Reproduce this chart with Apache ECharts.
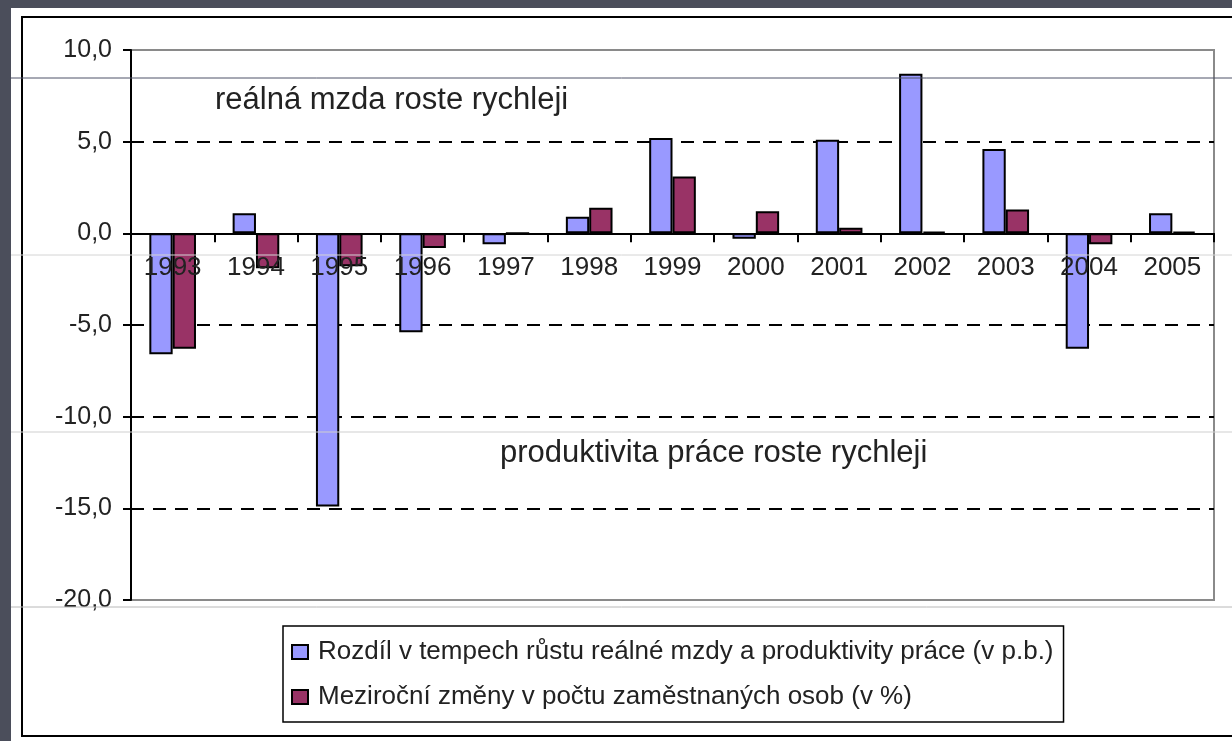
<!DOCTYPE html>
<html>
<head>
<meta charset="utf-8">
<title>Reálná mzda vs. produktivita</title>
<script src="https://cdn.jsdelivr.net/npm/echarts@6/dist/echarts.min.js"></script>
<style>
    html, body { margin: 0; padding: 0; background: #4b4e5b; }
    #chart { width: 1232px; height: 741px; }
</style>
</head>
<body>
<div id="chart"></div>
<script>
// data
const years = ['1993', '1994', '1995', '1996', '1997', '1998', '1999', '2000', '2001', '2002', '2003', '2004', '2005'];
const wageGap = [-6.6, 1.1, -14.9, -5.4, -0.6, 0.9, 5.2, -0.3, 5.1, 8.7, 4.6, -6.3, 1.1];
const employment = [-6.3, -1.9, -1.8, -0.8, 0.0, 1.4, 3.1, 1.2, 0.3, 0.1, 1.3, -0.6, 0.1];
const seriesNames = [
    'Rozdíl v tempech růstu reálné mzdy a produktivity práce (v p.b.)',
    'Meziroční změny v počtu zaměstnaných osob (v %)'
];
const notes = ['reálná mzda roste rychleji', 'produktivita práce roste rychleji'];
const yMin = -20;
const yMax = 10;

const font = '"Liberation Sans", Arial, sans-serif';

const myChart = echarts.init(document.getElementById('chart'));

const gridTop = 50;
const gridHeight = 550;
// the category axis sits on the zero line, labels included
const zeroOffset = -gridHeight * (0 - yMin) / (yMax - yMin);

// thin lines of the slide background that show through the picture
const slideLine = (y, color) => ({
    type: 'line',
    z: 100,
    silent: true,
    shape: { x1: 11, y1: y, x2: 1232, y2: y },
    style: { stroke: color, lineWidth: 1 }
});

const option = {
    backgroundColor: '#4b4e5b',
    animation: false,
    textStyle: { fontFamily: font },
    graphic: [
        {
            type: 'rect',
            z: -10,
            shape: { x: 11, y: 8, width: 1230, height: 740 },
            style: { fill: '#ffffff' }
        },
        {
            type: 'rect',
            z: -9,
            shape: { x: 22, y: 17, width: 1230, height: 719 },
            style: { fill: 'none', stroke: '#000', lineWidth: 2 }
        },
        {
            type: 'text',
            z: 5,
            left: 215,
            top: 85,
            style: { text: notes[0], font: '31px ' + font, fill: '#222' }
        },
        {
            type: 'text',
            z: 5,
            left: 500,
            top: 438,
            style: { text: notes[1], font: '31px ' + font, fill: '#222' }
        },
        slideLine(78, '#4f5369'),
        slideLine(255, '#d4d4d4'),
        slideLine(432, '#cfcfcf'),
        slideLine(607, '#b8b8b8')
    ],
    grid: {
        left: 131,
        right: 18,
        top: gridTop,
        height: gridHeight,
        show: true,
        backgroundColor: 'transparent',
        borderColor: '#8a8a8a',
        borderWidth: 2
    },
    legend: {
        orient: 'vertical',
        left: 283,
        top: 626,
        padding: [13, 10, 12, 8],
        itemGap: 19,
        itemWidth: 16,
        itemHeight: 14,
        backgroundColor: '#fff',
        borderColor: '#000',
        borderWidth: 1.5,
        borderRadius: 0,
        icon: 'rect',
        textStyle: { fontSize: 26, color: '#222', fontFamily: font, padding: [0, 0, 0, 5] },
        data: seriesNames
    },
    xAxis: {
        type: 'category',
        data: years,
        z: 10,
        offset: zeroOffset,
        axisLine: { onZero: false, lineStyle: { color: '#000', width: 2 } },
        axisTick: { show: true, length: 9, inside: false, lineStyle: { color: '#000', width: 2 } },
        axisLabel: { fontSize: 26, color: '#222', margin: 21, fontFamily: font }
    },
    yAxis: {
        type: 'value',
        min: yMin,
        max: yMax,
        interval: 5,
        axisLine: { show: true, lineStyle: { color: '#000', width: 2 } },
        axisTick: { show: true, length: 8, lineStyle: { color: '#000', width: 2 } },
        axisLabel: {
            fontSize: 25,
            color: '#222',
            margin: 19,
            fontFamily: font,
            formatter: (v) => v.toFixed(1).replace('.', ',')
        },
        splitLine: {
            show: true,
            showMinLine: false,
            showMaxLine: false,
            lineStyle: { color: '#000', width: 2, type: [13, 9] }
        }
    },
    series: [
        {
            name: seriesNames[0],
            type: 'bar',
            data: wageGap,
            barGap: '0%',
            barCategoryGap: '44%',
            itemStyle: { color: '#9999ff', borderColor: '#000', borderWidth: 2 }
        },
        {
            name: seriesNames[1],
            type: 'bar',
            data: employment,
            itemStyle: { color: '#993366', borderColor: '#000', borderWidth: 2 }
        }
    ]
};

myChart.setOption(option);
</script>
</body>
</html>
